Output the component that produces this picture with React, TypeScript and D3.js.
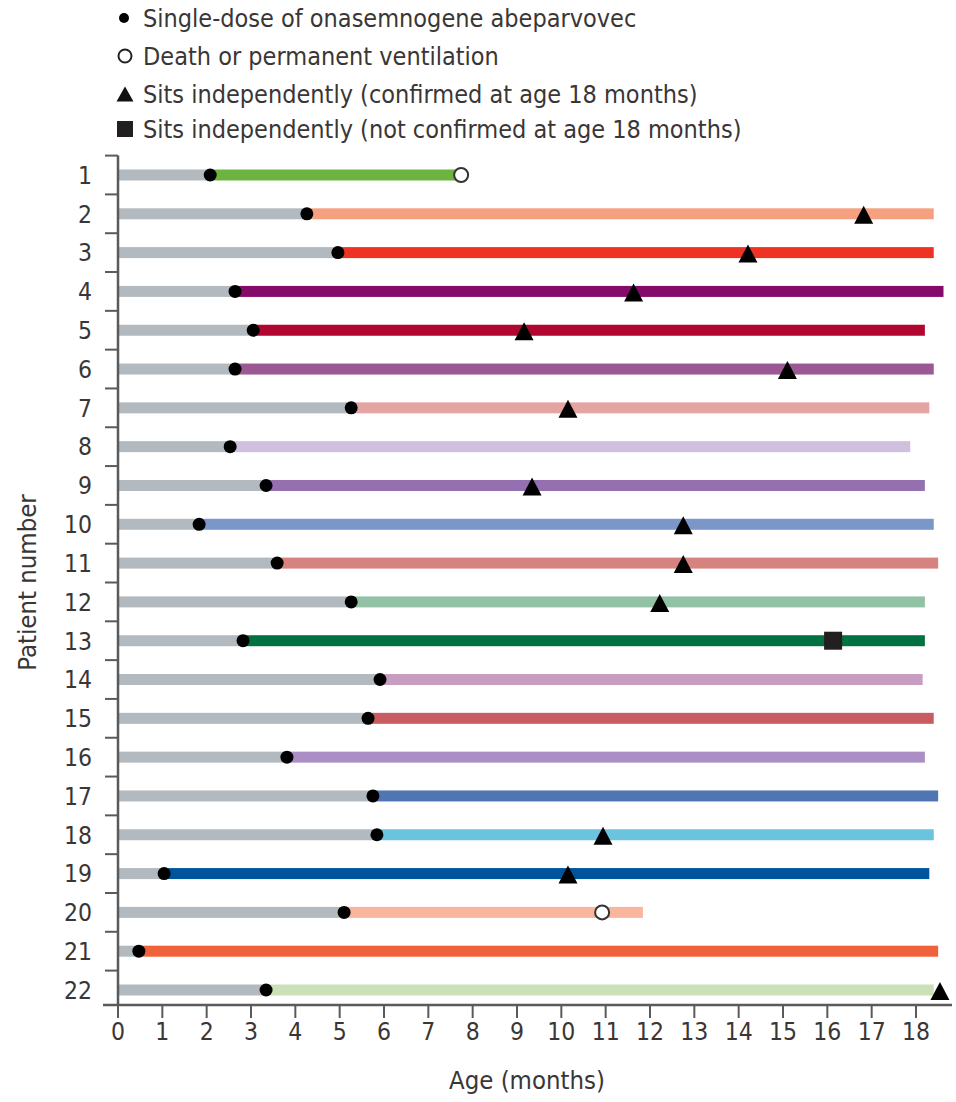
import React from "react";
import * as d3 from "d3";

const patients = [1,2,3,4,5,6,7,8,9,10,11,12,13,14,15,16,17,18,19,20,21,22];
const doseAge = [2.08,4.26,4.96,2.64,3.05,2.64,5.26,2.53,3.34,1.83,3.59,5.26,2.82,5.91,5.64,3.81,5.75,5.84,1.04,5.1,0.47,3.34];
const endAge = [7.74,18.4,18.4,18.62,18.2,18.4,18.3,17.87,18.2,18.4,18.5,18.2,18.2,18.15,18.4,18.2,18.5,18.4,18.3,11.84,18.5,18.4];
const colors = ["#6db33f","#f5a07f","#ee3224","#850b6b","#b0062f","#9c5892","#e3a4a3","#cfc0df","#9470b0","#7b96c8","#d6827e","#93c1a5","#007140","#c89dc2","#c95c60","#ab8fc4","#4f76b3","#6ac4dd","#00549c","#f9b69c","#f0623c","#cae1b7"];
// event markers: patient, age
const sitConfirmed = [
  { p: 2, age: 16.82 }, { p: 3, age: 14.21 }, { p: 4, age: 11.63 }, { p: 5, age: 9.16 },
  { p: 6, age: 15.1 }, { p: 7, age: 10.15 }, { p: 9, age: 9.34 }, { p: 10, age: 12.75 },
  { p: 11, age: 12.75 }, { p: 12, age: 12.22 }, { p: 18, age: 10.94 }, { p: 19, age: 10.15 },
  { p: 22, age: 18.54 },
];
const sitNotConfirmed = [{ p: 13, age: 16.13 }];
const deathVent = [{ p: 1, age: 7.74 }, { p: 20, age: 10.92 }];
const xTicks = d3.range(0, 19);
const legendLabels = [
  "Single-dose of onasemnogene abeparvovec",
  "Death or permanent ventilation",
  "Sits independently (confirmed at age 18 months)",
  "Sits independently (not confirmed at age 18 months)",
];

const FONT = "'DejaVu Sans Condensed', 'Liberation Sans Narrow', 'DejaVu Sans', sans-serif";
const TXT = "#3a3636";
const AX = "#5a5a5a";
const GRAY = "#b2bac0";

export default function App() {
  const x = d3.scaleLinear().domain([0, 18]).range([118, 916]);
  const y = d3.scalePoint<number>().domain(patients).range([175, 990]);
  const step = y.step();
  const axisY = 1005;
  const barH = 11;
  const tri = (cx: number, cy: number, w: number, h: number) =>
    `M${cx},${cy - h / 2}L${cx + w / 2},${cy + h / 2}L${cx - w / 2},${cy + h / 2}Z`;

  return (
    <svg width={956} height={1102} style={{ display: "block", position: "absolute", left: 0, top: 0 }} fontFamily={FONT}>
      {/* legend */}
      <g>
        <circle cx={124} cy={18} r={5} fill="#000" />
        <circle cx={125} cy={56} r={6.5} fill="#fff" stroke="#222" strokeWidth={2} />
        <path d={tri(125, 94, 17, 15)} fill="#111" />
        <rect x={117} y={121} width={16} height={16} fill="#231f20" />
        {legendLabels.map((t, i) => (
          <text key={t} x={143} y={[18, 56, 94, 129][i]} dy="0.35em" fontSize={25} fill={TXT}>{t}</text>
        ))}
      </g>
      {/* bars */}
      {patients.map((p, i) => {
        const cy = y(p)!;
        return (
          <g key={p}>
            <rect x={x(0)} y={cy - barH / 2} width={x(doseAge[i]) - x(0)} height={barH} fill={GRAY} />
            <rect x={x(doseAge[i])} y={cy - barH / 2} width={x(endAge[i]) - x(doseAge[i])} height={barH} fill={colors[i]} />
          </g>
        );
      })}
      {/* dose dots */}
      {patients.map((p, i) => (
        <circle key={"d" + p} cx={x(doseAge[i])} cy={y(p)!} r={6.5} fill="#000" />
      ))}
      {deathVent.map((d) => (
        <circle key={"v" + d.p} cx={x(d.age)} cy={y(d.p)!} r={7} fill="#fff" stroke="#333" strokeWidth={2} />
      ))}
      {sitConfirmed.map((d) => (
        <path key={"t" + d.p} d={tri(x(d.age), y(d.p)! + 1, 19, 18)} fill="#000" />
      ))}
      {sitNotConfirmed.map((d) => (
        <rect key={"s" + d.p} x={x(d.age) - 9} y={y(d.p)! - 9} width={18} height={18} fill="#231f20" />
      ))}
      {/* y axis */}
      <line x1={x(0)} x2={x(0)} y1={y(1)! - step / 2} y2={axisY} stroke={AX} strokeWidth={2.5} />
      {patients.map((p) => (
        <g key={"yt" + p}>
          <line x1={x(0) - 13} x2={x(0)} y1={y(p)! - step / 2} y2={y(p)! - step / 2} stroke={AX} strokeWidth={2} />
          <text x={92} y={y(p)!} dy="0.36em" textAnchor="end" fontSize={24.5} fill={TXT}>{p}</text>
        </g>
      ))}
      <text transform={`translate(27,${(y(1)! + y(22)!) / 2}) rotate(-90)`} textAnchor="middle" dy="0.35em" fontSize={25.5} fill={TXT}>Patient number</text>
      {/* x axis */}
      <line x1={103} x2={952} y1={axisY} y2={axisY} stroke={AX} strokeWidth={2.5} />
      {xTicks.map((t) => (
        <g key={"xt" + t}>
          <line x1={x(t)} x2={x(t)} y1={axisY} y2={axisY + 13} stroke={AX} strokeWidth={2} />
          <text x={x(t)} y={1031} dy="0.36em" textAnchor="middle" fontSize={24.5} fill={TXT}>{t}</text>
        </g>
      ))}
      <text x={(x(0) + x(18)) / 2 + 10} y={1080} dy="0.35em" textAnchor="middle" fontSize={25.5} fill={TXT}>Age (months)</text>
    </svg>
  );
}
